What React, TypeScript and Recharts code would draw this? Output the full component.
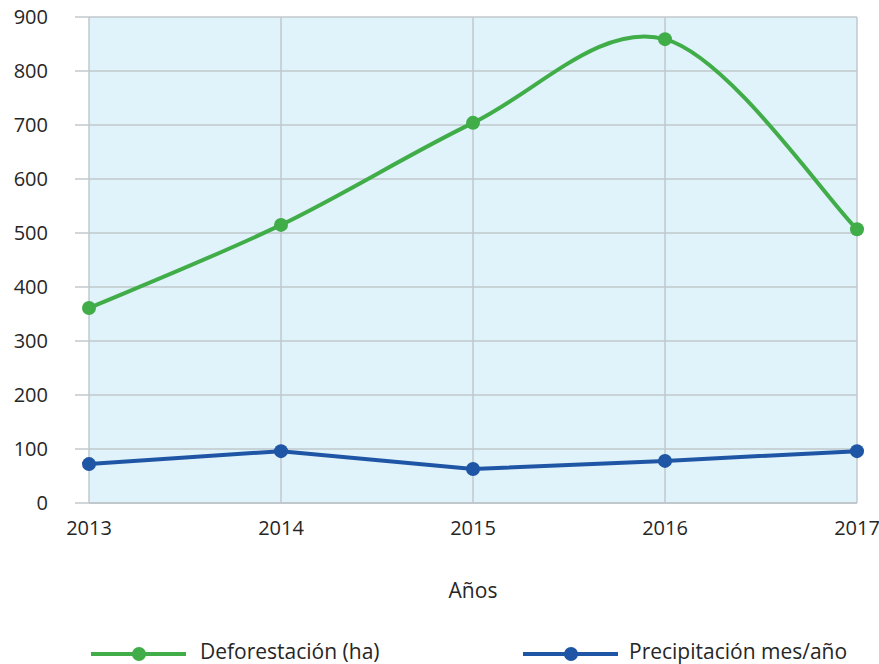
import React from 'react';
import { LineChart, Line, XAxis, YAxis, CartesianGrid } from 'recharts';

const years = ['2013', '2014', '2015', '2016', '2017'];
const deforestacion = [361, 515, 704, 859, 507];
const precipitacion = [72, 96, 63, 78, 96];
const yTicks = [0, 100, 200, 300, 400, 500, 600, 700, 800, 900];
const seriesNames = ['Deforestación (ha)', 'Precipitación mes/año'];
const xAxisTitle = 'Años';

const GREEN = '#41ad49';
const BLUE = '#1f55a5';
const GRID = '#c0c8cd';
const TEXT = '#262626';
const FONT = '"Open Sans", Lato, sans-serif';

const data = years.map((y, i) => ({
  year: y,
  def: deforestacion[i],
  pre: precipitacion[i],
}));

// Excel-like smoothed curve (Catmull-Rom with 1/6 control offsets)
const smoothCurve = (context: any) => {
  let pts: number[][] = [];
  return {
    areaStart() {},
    areaEnd() {},
    lineStart() {
      pts = [];
    },
    point(x: number, y: number) {
      pts.push([+x, +y]);
    },
    lineEnd() {
      if (!pts.length) return;
      context.moveTo(pts[0][0], pts[0][1]);
      for (let i = 0; i < pts.length - 1; i++) {
        const p0 = pts[i - 1] || pts[i];
        const p1 = pts[i];
        const p2 = pts[i + 1];
        const p3 = pts[i + 2] || pts[i + 1];
        const c1x = p1[0] + (p2[0] - p0[0]) / 6;
        const c1y = p1[1] + (p2[1] - p0[1]) / 6;
        const c2x = p2[0] - (p3[0] - p1[0]) / 6;
        const c2y = p2[1] - (p3[1] - p1[1]) / 6;
        context.bezierCurveTo(c1x, c1y, c2x, c2y, p2[0], p2[1]);
      }
    },
  };
};

const legendItems = [
  { name: seriesNames[0], color: GREEN, lineX: 91, textX: 200 },
  { name: seriesNames[1], color: BLUE, lineX: 523, textX: 629 },
];

export default function App() {
  return (
    <div style={{ position: 'absolute', left: 0, top: 0, width: 879, height: 664, background: '#fff' }}>
      <LineChart
        width={879}
        height={664}
        data={data}
        margin={{ top: 17, right: 22, left: 0, bottom: 61 }}
      >
        <CartesianGrid stroke={GRID} strokeWidth={1.5} fill="#e0f2fa" />
        <XAxis
          dataKey="year"
          height={100}
          tickLine={false}
          tickSize={6}
          tickMargin={12}
          axisLine={{ stroke: GRID, strokeWidth: 2 }}
          tick={{ fill: TEXT, fontSize: 20, fontFamily: FONT }}
          interval={0}
          label={{ value: xAxisTitle, position: 'insideBottom', offset: 5, fill: TEXT, fontSize: 21, fontFamily: FONT }}
        />
        <YAxis
          width={89}
          domain={[0, 900]}
          ticks={yTicks}
          interval={0}
          axisLine={false}
          tickLine={{ stroke: GRID, strokeWidth: 1.5 }}
          tickSize={14}
          tickMargin={27}
          tick={{ fill: TEXT, fontSize: 20, fontFamily: FONT }}
        />
        <Line
          type={smoothCurve as any}
          dataKey="def"
          stroke={GREEN}
          strokeWidth={4}
          dot={{ r: 7, fill: GREEN, stroke: GREEN, strokeWidth: 0 }}
          isAnimationActive={false}
        />
        <Line
          type="linear"
          dataKey="pre"
          stroke={BLUE}
          strokeWidth={4}
          dot={{ r: 7, fill: BLUE, stroke: BLUE, strokeWidth: 0 }}
          isAnimationActive={false}
        />
      </LineChart>
      <svg width={879} height={30} style={{ position: 'absolute', left: 0, top: 634 }}>
        {legendItems.map((it) => (
          <g key={it.name}>
            <line x1={it.lineX} x2={it.lineX + 95} y1={20} y2={20} stroke={it.color} strokeWidth={4} />
            <circle cx={it.lineX + 48} cy={20} r={7} fill={it.color} />
            <text x={it.textX} y={25} fill={TEXT} fontSize={21} fontFamily={FONT}>
              {it.name}
            </text>
          </g>
        ))}
      </svg>
    </div>
  );
}
